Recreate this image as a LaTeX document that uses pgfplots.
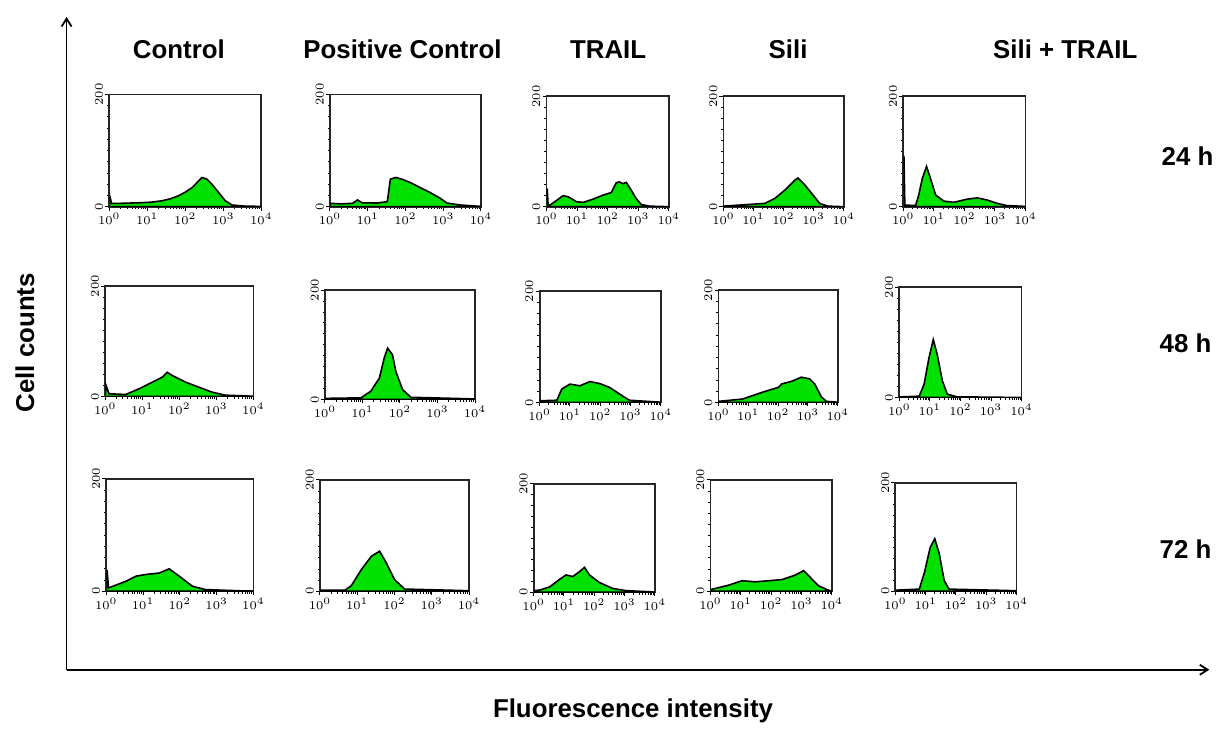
\documentclass[border=0pt]{standalone}
\usepackage{pgfplots}
\pgfplotsset{compat=1.18}
\usepackage{fontspec}
\setmainfont{Liberation Sans}
\usetikzlibrary{arrows.meta}
\definecolor{fgreen}{RGB}{0,225,0}
\pgfplotsset{
 panel/.style={
  scale only axis, anchor=south west,
  xmin=0,xmax=4,ymin=0,ymax=200,
  xtick={0,1,2,3,4}, xticklabels={$10^0$,$10^1$,$10^2$,$10^3$,$10^4$},
  minor xtick={0.301,0.477,0.602,0.699,0.778,0.845,0.903,0.954,
   1.301,1.477,1.602,1.699,1.778,1.845,1.903,1.954,
   2.301,2.477,2.602,2.699,2.778,2.845,2.903,2.954,
   3.301,3.477,3.602,3.699,3.778,3.845,3.903,3.954},
  ytick={0,200}, minor y tick num=9,
  tick pos=left, tick align=outside,
  major tick length=2pt, minor tick length=1.2pt,
  tick style={black, line width=0.5pt},
  axis line style={line width=0.9pt, black!85},
  every tick label/.append style={font=\fontsize{6}{7}\selectfont, inner sep=1pt},
  yticklabel style={rotate=90, anchor=south},
 },
 hist/.style={fill=fgreen, draw=black, line width=0.8pt}
}
\begin{document}
\begin{tikzpicture}
\path (0,0) rectangle (610pt,365.5pt);
% big arrows
\draw[line width=0.9pt, -{Straight Barb[length=4pt,width=5pt]}] (33.5pt,28.5pt) -- (33.5pt,357pt);
\draw[line width=0.9pt, -{Straight Barb[length=4pt,width=5pt]}] (33.5pt,28.5pt) -- (608.5pt,28.5pt);
% titles
\begin{scope}[every node/.style={font=\fontsize{13}{15}\selectfont\bfseries}]
\node at (90pt,340.5pt) {Control};
\node at (202.5pt,340.5pt) {Positive Control};
\node at (306pt,340.5pt) {TRAIL};
\node at (396.5pt,340.5pt) {Sili};
\node at (536pt,340.5pt) {Sili + TRAIL};
\node at (597.5pt,287pt) {24 h};
\node at (596.5pt,193pt) {48 h};
\node at (596.5pt,89pt) {72 h};
\node[rotate=90] at (12.5pt,193pt) {Cell counts};
\node at (318.5pt,8pt) {Fluorescence intensity};
\end{scope}
% ---------- Row 1 : 24 h ----------
\begin{axis}[panel, at={(55pt,261.5pt)}, width=76.5pt, height=56.5pt]
\addplot[hist] coordinates {(0,0)(0.02,17)(0.06,6)(0.3,6)(0.8,7)(1.1,8)(1.39,10.6)(1.6,14)(1.82,19.5)(2.0,26)(2.18,34)(2.35,46)(2.44,52)(2.57,49)(2.7,40)(2.88,25)(3.05,10.6)(3.23,3)(3.58,1)(4,0.5)} \closedcycle;
\end{axis}
\begin{axis}[panel, at={(166pt,261.5pt)}, width=76pt, height=56.5pt]
\addplot[hist] coordinates {(0,0)(0.02,6)(0.3,5)(0.6,6)(0.73,12)(0.85,7)(1.25,6.5)(1.52,9)(1.6,49)(1.74,52)(1.91,49)(2.13,43)(2.39,34)(2.66,25)(2.92,15)(3.1,6.5)(3.45,3)(4,0.5)} \closedcycle;
\end{axis}
\begin{axis}[panel, at={(275pt,261.5pt)}, width=61.5pt, height=55.5pt]
\addplot[hist] coordinates {(0,0)(0.02,33)(0.05,4)(0.11,3)(0.27,9)(0.54,20)(0.71,18)(0.98,9)(1.2,7.8)(1.52,13.7)(1.85,21)(2.12,25.7)(2.28,43.6)(2.39,44.8)(2.5,41.8)(2.61,44)(2.77,30)(2.93,15)(3.1,4)(3.37,1)(4,0)} \closedcycle;
\end{axis}
\begin{axis}[panel, at={(364pt,261.5pt)}, width=60.5pt, height=55.5pt]
\addplot[hist] coordinates {(0,1)(0.83,4)(1.38,6)(1.71,15)(2.04,30)(2.37,48)(2.48,52)(2.7,40)(2.98,21)(3.2,6)(3.47,1)(4,0)} \closedcycle;
\end{axis}
\begin{axis}[panel, at={(454.5pt,261.5pt)}, width=61.5pt, height=55.5pt]
\addplot[hist] coordinates {(0,0)(0.02,92)(0.05,3)(0.4,2)(0.5,20)(0.62,51)(0.76,73)(0.89,51)(1.06,21)(1.33,10)(1.66,8)(2.09,13.7)(2.42,16)(2.75,12)(3.07,6)(3.4,2)(4,0.5)} \closedcycle;
\end{axis}
% ---------- Row 2 : 48 h ----------
\begin{axis}[panel, at={(53pt,166pt)}, width=74.5pt, height=55.5pt]
\addplot[hist] coordinates {(0,0)(0.02,20)(0.1,5)(0.55,3.6)(0.91,14)(1.27,26)(1.54,35)(1.67,44)(1.81,38)(2.17,26)(2.52,17)(2.88,8)(3.24,2.4)(4,0.5)} \closedcycle;
\end{axis}
\begin{axis}[panel, at={(163.5pt,164.5pt)}, width=75.5pt, height=55pt]
\addplot[hist] coordinates {(0,2)(0.96,3)(1.22,15)(1.45,39)(1.58,76)(1.67,94)(1.8,82)(1.89,51)(2.07,18)(2.29,4)(4,1)} \closedcycle;
\end{axis}
\begin{axis}[panel, at={(271.5pt,163pt)}, width=61pt, height=56pt]
\addplot[hist] coordinates {(0,3)(0.57,4)(0.73,24)(1.0,33)(1.33,30)(1.66,37.6)(1.98,34)(2.31,27)(2.64,15)(2.96,4)(4,0.5)} \closedcycle;
\end{axis}
\begin{axis}[panel, at={(361.5pt,163pt)}, width=60pt, height=56.5pt]
\addplot[hist] coordinates {(0,2)(0.8,6)(1.46,18)(2.01,27)(2.12,33)(2.45,37.6)(2.78,45)(3.06,42)(3.23,33)(3.45,10)(3.62,2)(4,0.5)} \closedcycle;
\end{axis}
\begin{axis}[panel, at={(452.5pt,165.5pt)}, width=61.5pt, height=55.5pt]
\addplot[hist] coordinates {(0,1)(0.65,2.4)(0.81,24)(0.97,72)(1.11,105)(1.24,78)(1.41,30)(1.57,6)(1.89,1.2)(4,0)} \closedcycle;
\end{axis}
% ---------- Row 3 : 72 h ----------
\begin{axis}[panel, at={(53.5pt,68pt)}, width=74pt, height=56.5pt]
\addplot[hist] coordinates {(0,0)(0.02,38)(0.06,6)(0.54,18)(0.81,27)(1.08,30)(1.44,32.5)(1.71,40)(1.98,27)(2.34,9)(2.7,3)(4,0)} \closedcycle;
\end{axis}
\begin{axis}[panel, at={(161pt,68pt)}, width=75pt, height=56pt]
\addplot[hist] coordinates {(0,2)(0.67,2)(0.84,10)(1.11,39)(1.38,63)(1.6,72)(1.78,51)(2.0,21)(2.27,4)(4,1)} \closedcycle;
\end{axis}
\begin{axis}[panel, at={(268.5pt,67.5pt)}, width=61pt, height=54.5pt]
\addplot[hist] coordinates {(0,3)(0.2,4)(0.53,10)(0.86,24)(1.07,32)(1.29,29)(1.51,38)(1.68,46)(1.84,32)(2.17,18)(2.61,7)(3.05,3)(4,0.5)} \closedcycle;
\end{axis}
\begin{axis}[panel, at={(357.5pt,68pt)}, width=61pt, height=56pt]
\addplot[hist] coordinates {(0,3)(0.6,11)(1.04,19)(1.48,17)(1.92,19)(2.36,21)(2.79,29)(3.07,37)(3.29,25)(3.56,10)(3.84,3)(4,0)} \closedcycle;
\end{axis}
\begin{axis}[panel, at={(450.5pt,68pt)}, width=61pt, height=54.5pt]
\addplot[hist] coordinates {(0,2)(0.79,4)(0.96,35)(1.15,81)(1.3,97)(1.45,69)(1.61,20)(1.77,4)(4,1)} \closedcycle;
\end{axis}
\end{tikzpicture}
\end{document}
